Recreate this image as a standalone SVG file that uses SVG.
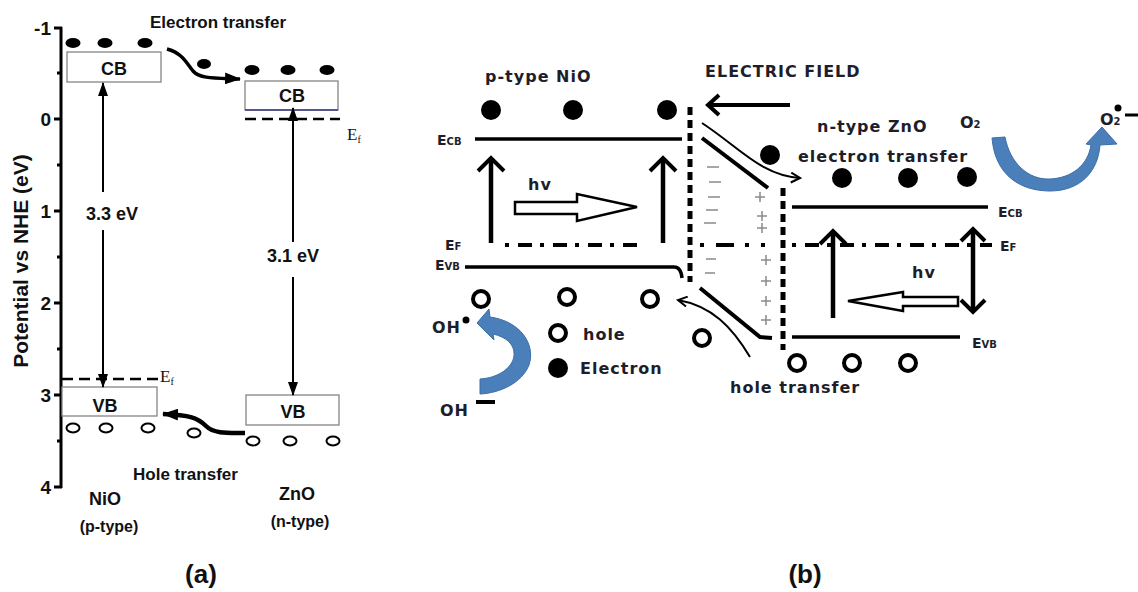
<svg xmlns="http://www.w3.org/2000/svg" width="1138" height="592" viewBox="0 0 1138 592">
<defs>
<style>
.a{font-family:"Liberation Sans",Arial,sans-serif;font-weight:bold;fill:#111}
.b{font-family:"DejaVu Sans","Open Sans",sans-serif;font-weight:bold;fill:#1e1e2a}
.t{font-size:16px;letter-spacing:1px}
.ser{font-family:"Liberation Serif","Times New Roman",serif;fill:#111}
.box{fill:#fff;stroke:#858585;stroke-width:1.3}
.ln{stroke:#000;fill:none}
.el{fill:#000}
.hl{fill:none;stroke:#000;stroke-width:2}
.bh{fill:none;stroke:#000;stroke-width:4}
.blue{fill:#4b7fba;stroke:#3c6ea8;stroke-width:1}
</style>
<marker id="tri" viewBox="0 0 14 10" refX="13" refY="5" markerWidth="14" markerHeight="10" markerUnits="userSpaceOnUse" orient="auto">
<path d="M0,0 L14,5 L0,10 Z" fill="#000"/>
</marker>
<marker id="tri2" viewBox="0 0 16 12" refX="15" refY="6" markerWidth="16" markerHeight="12" markerUnits="userSpaceOnUse" orient="auto">
<path d="M0,0 L16,6 L0,12 Z" fill="#000"/>
</marker>
<marker id="chev" viewBox="0 0 12 12" refX="10" refY="6" markerWidth="12" markerHeight="12" markerUnits="userSpaceOnUse" orient="auto">
<path d="M1,1 L10,6 L1,11" fill="none" stroke="#000" stroke-width="2"/>
</marker>
</defs>
<rect width="1138" height="592" fill="#fff"/>

<!-- Panel (a) -->
<g id="axis">
<line class="ln" x1="61" y1="27" x2="61" y2="488" stroke-width="3"/>
<g stroke="#000" stroke-width="3">
<line x1="54" y1="28" x2="62" y2="28"/>
<line x1="54" y1="119" x2="62" y2="119"/>
<line x1="54" y1="211" x2="62" y2="211"/>
<line x1="54" y1="303" x2="62" y2="303"/>
<line x1="54" y1="395" x2="62" y2="395"/>
<line x1="54" y1="487" x2="62" y2="487"/>
<line x1="57" y1="73" x2="62" y2="73"/>
<line x1="57" y1="165" x2="62" y2="165"/>
<line x1="57" y1="257" x2="62" y2="257"/>
<line x1="57" y1="349" x2="62" y2="349"/>
<line x1="57" y1="441" x2="62" y2="441"/>
</g>
<g class="a" font-size="19" text-anchor="end">
<text x="51" y="35">-1</text>
<text x="51" y="126">0</text>
<text x="51" y="218">1</text>
<text x="51" y="310">2</text>
<text x="51" y="402">3</text>
<text x="51" y="494">4</text>
</g>
<text class="a" font-size="21" text-anchor="middle" transform="translate(28,261) rotate(-90)">Potential vs NHE (eV)</text>
</g>

<g id="nio-cb">
<ellipse class="el" cx="73" cy="43" rx="7.5" ry="5"/>
<ellipse class="el" cx="105" cy="43" rx="7.5" ry="5"/>
<ellipse class="el" cx="145" cy="43" rx="7.5" ry="5"/>
<rect class="box" x="67" y="52" width="94" height="30"/>
<text class="a" x="114" y="75" font-size="18" text-anchor="middle">CB</text>
</g>
<g id="zno-cb">
<ellipse class="el" cx="252" cy="70" rx="7.5" ry="5"/>
<ellipse class="el" cx="288" cy="70" rx="7.5" ry="5"/>
<ellipse class="el" cx="327" cy="70" rx="7.5" ry="5"/>
<rect class="box" x="245" y="81" width="93" height="29"/>
<line x1="245" y1="110" x2="338" y2="110" stroke="#3a3a80" stroke-width="1.3"/>
<text class="a" x="292" y="102" font-size="18" text-anchor="middle">CB</text>
<line class="ln" x1="245" y1="119" x2="340" y2="119" stroke-width="2.5" stroke-dasharray="11 6"/>
<text class="ser" x="347" y="140" font-size="17">E<tspan font-size="10" dy="3">f</tspan></text>
</g>
<g id="nio-vb">
<line class="ln" x1="62" y1="379" x2="158" y2="379" stroke-width="2.5" stroke-dasharray="11 6"/>
<text class="ser" x="160" y="382" font-size="17">E<tspan font-size="10" dy="3">f</tspan></text>
<rect class="box" x="62" y="387" width="95" height="29"/>
<text class="a" x="105" y="412" font-size="18" text-anchor="middle">VB</text>
<ellipse class="hl" cx="73" cy="428" rx="6.5" ry="4.5"/>
<ellipse class="hl" cx="106" cy="428" rx="6.5" ry="4.5"/>
<ellipse class="hl" cx="148" cy="428" rx="6.5" ry="4.5"/>
</g>
<g id="zno-vb">
<rect class="box" x="246" y="395" width="93" height="30"/>
<text class="a" x="293" y="418" font-size="18" text-anchor="middle">VB</text>
<ellipse class="hl" cx="253" cy="441" rx="6.5" ry="4.5"/>
<ellipse class="hl" cx="290" cy="441" rx="6.5" ry="4.5"/>
<ellipse class="hl" cx="333" cy="441" rx="6.5" ry="4.5"/>
</g>
<g id="labels-a">
<text class="a" x="150" y="28" font-size="17">Electron transfer</text>
<text class="a" x="133" y="480" font-size="17">Hole transfer</text>
<text class="a" x="105" y="505" font-size="18" text-anchor="middle">NiO</text>
<text class="a" x="109" y="532" font-size="16" text-anchor="middle">(p-type)</text>
<text class="a" x="297" y="500" font-size="18" text-anchor="middle">ZnO</text>
<text class="a" x="300" y="527" font-size="16" text-anchor="middle">(n-type)</text>
<text class="a" x="112" y="220" font-size="18" text-anchor="middle">3.3 eV</text>
<text class="a" x="293" y="262" font-size="18" text-anchor="middle">3.1 eV</text>
<text class="a" x="201" y="583" font-size="26" text-anchor="middle">(a)</text>
<ellipse class="el" cx="204" cy="64" rx="7" ry="5"/>
<ellipse class="hl" cx="194" cy="433" rx="6.5" ry="4.5"/>
</g>
<g id="connectors-a">
<line class="ln" x1="103" y1="192" x2="103" y2="83" stroke-width="2" marker-end="url(#tri)"/>
<line class="ln" x1="103" y1="230" x2="103" y2="387" stroke-width="2" marker-end="url(#tri)"/>
<line class="ln" x1="293" y1="242" x2="293" y2="108" stroke-width="2" marker-end="url(#tri)"/>
<line class="ln" x1="293" y1="277" x2="293" y2="395" stroke-width="2" marker-end="url(#tri)"/>
<path class="ln" d="M167,49 C182,53 186,62 193,71 C200,79 215,78 240,79" stroke-width="3.5" marker-end="url(#tri2)"/>
<path class="ln" d="M245,433 C228,433 214,434 206,426 C198,418 190,415 163,414" stroke-width="4.5" marker-end="url(#tri2)"/>
</g>

<!-- Panel (b) -->
<g id="nio-bands">
<text class="b t" x="485" y="82">p-type NiO</text>
<circle class="el" cx="491" cy="110" r="10"/>
<circle class="el" cx="573" cy="110" r="10"/>
<circle class="el" cx="667" cy="110" r="10"/>
<text class="b" x="437" y="145" font-size="14">E<tspan font-size="10">CB</tspan></text>
<line class="ln" x1="475" y1="139" x2="682" y2="139" stroke-width="3.5"/>
<line class="ln" x1="491" y1="243" x2="491" y2="159" stroke-width="4.5"/>
<path class="bh" d="M478,171 L491,158 L504,171" stroke-width="4.5"/>
<line class="ln" x1="663" y1="243" x2="663" y2="159" stroke-width="4.5"/>
<path class="bh" d="M650,171 L663,158 L676,171" stroke-width="4.5"/>
<text class="b t" x="528" y="190">hv</text>
<polygon points="515,202 577,202 577,194 637,207 577,221 577,214 515,214" fill="#fff" stroke="#000" stroke-width="2.5"/>
<text class="b" x="445" y="250" font-size="14">E<tspan font-size="10">F</tspan></text>
<line class="ln" x1="505" y1="245" x2="642" y2="245" stroke-width="4" stroke-dasharray="4 9 14 8"/>
<text class="b" x="435" y="270" font-size="14">E<tspan font-size="10">VB</tspan></text>
<path class="ln" d="M465,267 L674,267 Q681,267 682,278" stroke-width="3.5"/>
<circle class="bh" cx="481" cy="299" r="8"/>
<circle class="bh" cx="567" cy="297" r="8"/>
<circle class="bh" cx="650" cy="299" r="8"/>
</g>
<g id="oh-reaction">
<text class="b t" x="432" y="333" letter-spacing="0">OH</text>
<circle class="el" cx="466" cy="320" r="3.5"/>
<path class="blue" d="M477,323 L489,309 L490,317 C520,321 536,344 529,365 C522,383 500,393 480,394 L480,379 C497,378 512,369 514,356 C515,344 506,337 493,334 L494,340 Z"/>
<text class="b t" x="440" y="416" letter-spacing="0">OH</text>
<rect x="476" y="400" width="19" height="4" fill="#000"/>
</g>
<g id="legend">
<circle class="bh" cx="558" cy="333" r="8"/>
<text class="b t" x="583" y="340">hole</text>
<circle class="el" cx="558" cy="368" r="10"/>
<text class="b t" x="580" y="374">Electron</text>
</g>
<g id="junction">
<text class="b t" x="705" y="77" font-size="15.5">ELECTRIC FIELD</text>
<line class="ln" x1="690" y1="107" x2="690" y2="282" stroke-width="5" stroke-dasharray="8 5"/>
<line class="ln" x1="783" y1="188" x2="783" y2="350" stroke-width="5" stroke-dasharray="8 5"/>
<line class="ln" x1="702" y1="138" x2="768" y2="188" stroke-width="4"/>
<path class="ln" d="M700,288 L760,337 L772,338" stroke-width="4"/>
<circle class="el" cx="770" cy="155" r="10"/>
<circle class="bh" cx="702" cy="338" r="8"/>
<line class="ln" x1="700" y1="245" x2="765" y2="245" stroke-width="4" stroke-dasharray="4 12 18 11"/>
<g stroke="#8a8a8a" stroke-width="1.5">
<line x1="707" y1="167" x2="719" y2="167"/>
<line x1="709" y1="182" x2="721" y2="182"/>
<line x1="708" y1="197" x2="720" y2="197"/>
<line x1="706" y1="210" x2="718" y2="210"/>
<line x1="704" y1="223" x2="716" y2="223"/>
<line x1="706" y1="259" x2="716" y2="259"/>
<line x1="705" y1="273" x2="715" y2="273"/>
<path d="M755,197 h10 M760,192 v10 M757,216 h10 M762,211 v10 M757,228 h10 M762,223 v10 M761,260 h10 M766,255 v10 M761,281 h10 M766,276 v10 M761,301 h10 M766,296 v10 M761,320 h10 M766,315 v10"/>
</g>
</g>
<g id="zno-bands">
<text class="b t" x="817" y="132">n-type ZnO</text>
<text class="b t" x="798" y="162">electron transfer</text>
<circle class="el" cx="842" cy="178" r="10"/>
<circle class="el" cx="908" cy="178" r="10"/>
<circle class="el" cx="967" cy="177" r="10"/>
<line class="ln" x1="792" y1="207" x2="988" y2="207" stroke-width="3.5"/>
<text class="b" x="998" y="217" font-size="14">E<tspan font-size="10">CB</tspan></text>
<line class="ln" x1="792" y1="245" x2="992" y2="245" stroke-width="4" stroke-dasharray="4 9 14 8"/>
<text class="b" x="1000" y="251" font-size="14">E<tspan font-size="10">F</tspan></text>
<line class="ln" x1="833" y1="318" x2="833" y2="232" stroke-width="4.5"/>
<path class="bh" d="M820,244 L833,231 L846,244" stroke-width="4.5"/>
<line class="ln" x1="973" y1="230" x2="973" y2="311" stroke-width="4.5"/>
<path class="bh" d="M961,241 L973,229 L985,241 M961,300 L973,312 L985,300" stroke-width="4.5"/>
<text class="b t" x="912" y="278">hv</text>
<polygon points="958,297 903,297 903,292 848,301 903,311 903,306 958,306" fill="#fff" stroke="#000" stroke-width="2.5"/>
<line class="ln" x1="792" y1="337" x2="960" y2="337" stroke-width="3.5"/>
<text class="b" x="972" y="348" font-size="14">E<tspan font-size="10">VB</tspan></text>
<circle class="bh" cx="797" cy="363" r="8"/>
<circle class="bh" cx="852" cy="363" r="8"/>
<circle class="bh" cx="908" cy="363" r="8"/>
<text class="b t" x="730" y="393">hole transfer</text>
</g>
<g id="o2-reaction">
<text class="b" x="960" y="128" font-size="16">O<tspan font-size="10">2</tspan></text>
<path class="blue" d="M992,138 C995,175 1020,191 1050,191 C1080,191 1098,172 1100,145 L1117,144 L1102,127 L1086,144 L1091,145 C1088,165 1072,178 1050,179 C1028,180 1010,163 1005,137 Z"/>
<text class="b" x="1100" y="125" font-size="16">O<tspan font-size="10">2</tspan></text>
<circle class="el" cx="1118" cy="108" r="3.5"/>
<line class="ln" x1="1125" y1="115" x2="1138" y2="115" stroke-width="3"/>
</g>
<g id="connectors-b">
<line class="ln" x1="790" y1="105" x2="710" y2="105" stroke-width="4"/>
<path class="bh" d="M719,95 L708,105 L719,115" stroke-width="4"/>
<path class="ln" d="M702,123 C740,148 762,176 800,178" stroke-width="2" marker-end="url(#chev)"/>
<path class="ln" d="M750,357 C732,327 712,306 678,300" stroke-width="2" marker-end="url(#chev)"/>
</g>
<text class="a" x="805" y="583" font-size="26" text-anchor="middle">(b)</text>
</svg>
